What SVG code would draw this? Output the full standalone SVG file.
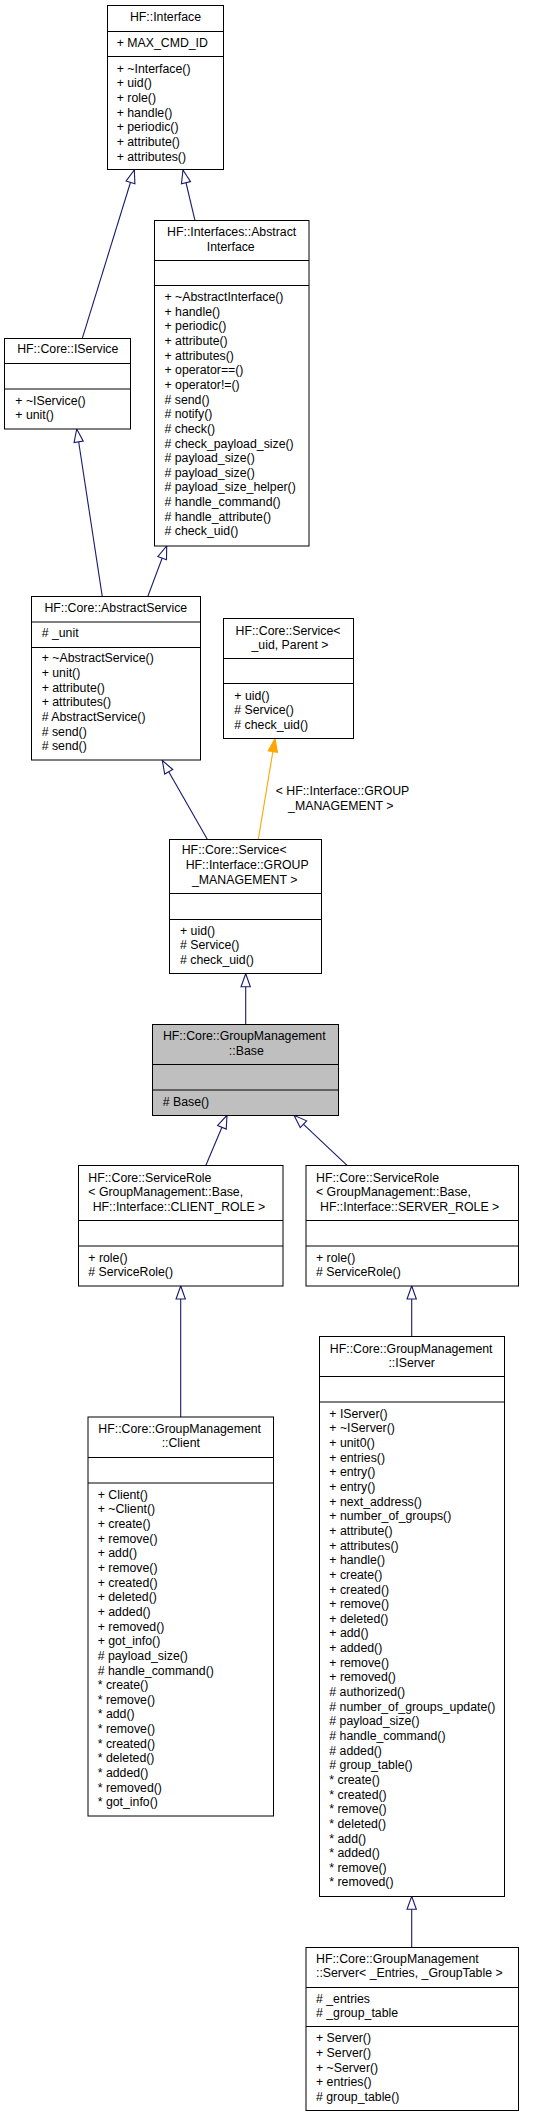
<svg xmlns="http://www.w3.org/2000/svg" width="549" height="2117" viewBox="0 0 549 2117">
<style>
.bg{fill:#fff}
.n rect{fill:#fff;stroke:#000;stroke-width:1}
.n line{stroke:#000;stroke-width:1}
.n.hl rect{fill:#bfbfbf}
text{font-family:"Liberation Sans",Arial,Helvetica,sans-serif;font-size:12.3px;fill:#000}
.c{text-anchor:middle}
.e{fill:none;stroke:#191970;stroke-width:1.1}
.eo{fill:none;stroke:#ffa500;stroke-width:1.1}
</style>
<defs>
<marker id="inh" markerUnits="userSpaceOnUse" markerWidth="15" markerHeight="11" viewBox="0 0 15 11" refX="13.5" refY="5.15" orient="auto" overflow="visible">
<path d="M0.5,0.5 L13.5,5.15 L0.5,9.8 Z" fill="#fff" stroke="#191970" stroke-width="1.1"/>
</marker>
<marker id="tpl" markerUnits="userSpaceOnUse" markerWidth="15" markerHeight="11" viewBox="0 0 15 11" refX="13.5" refY="5.15" orient="auto" overflow="visible">
<path d="M0.5,0.5 L13.5,5.15 L0.5,9.8 Z" fill="#ffa500" stroke="#ffa500" stroke-width="1.1"/>
</marker>
</defs>
<rect class="bg" x="0" y="0" width="549" height="2117"/>

<g id="edges">
<path class="e" d="M82.3,338.3 L134.3,170" marker-end="url(#inh)"/>
<path class="e" d="M195,220.7 L183,170" marker-end="url(#inh)"/>
<path class="e" d="M102.3,596.7 L76.7,429" marker-end="url(#inh)"/>
<path class="e" d="M147.7,596.7 L166.7,546" marker-end="url(#inh)"/>
<path class="e" d="M207.3,839.3 L162.3,760.5" marker-end="url(#inh)"/>
<path class="eo" d="M258.3,839.3 L275,738.7" marker-end="url(#tpl)"/>
<text class="c" x="342.5" y="795.3">&lt; HF::Interface::GROUP</text>
<text class="c" x="340.8" y="810.3">_MANAGEMENT &gt;</text>
<path class="e" d="M245.7,1024.7 L245.7,973.7" marker-end="url(#inh)"/>
<path class="e" d="M205.7,1165.7 L227,1115.3" marker-end="url(#inh)"/>
<path class="e" d="M347.3,1165.7 L294,1115.3" marker-end="url(#inh)"/>
<path class="e" d="M180.7,1417 L180.7,1286" marker-end="url(#inh)"/>
<path class="e" d="M411.7,1336.7 L411.7,1286" marker-end="url(#inh)"/>
<path class="e" d="M411.7,1947.3 L411.7,1896.3" marker-end="url(#inh)"/>
</g>

<g id="interface" class="n">
<rect x="107.5" y="5.5" width="116" height="164"/>
<line x1="107.5" y1="31.5" x2="223.5" y2="31.5"/>
<line x1="107.5" y1="56.5" x2="223.5" y2="56.5"/>
<text class="c" x="165.5" y="20.7">HF::Interface</text>
<text x="116.7" y="46.7">+ MAX_CMD_ID</text>
<text x="116.7" y="72.7"><tspan x="116.7">+ ~Interface()</tspan><tspan x="116.7" dy="14.65">+ uid()</tspan><tspan x="116.7" dy="14.65">+ role()</tspan><tspan x="116.7" dy="14.65">+ handle()</tspan><tspan x="116.7" dy="14.65">+ periodic()</tspan><tspan x="116.7" dy="14.65">+ attribute()</tspan><tspan x="116.7" dy="14.65">+ attributes()</tspan></text>
</g>

<g id="abstract-interface" class="n">
<rect x="154.5" y="220.5" width="154.5" height="325.5"/>
<line x1="154.5" y1="260.5" x2="309" y2="260.5"/>
<line x1="154.5" y1="285.5" x2="309" y2="285.5"/>
<text class="c" x="231.7" y="236.3">HF::Interfaces::Abstract</text>
<text class="c" x="230.8" y="250.7">Interface</text>
<text x="164.5" y="301"><tspan x="164.5">+ ~AbstractInterface()</tspan><tspan x="164.5" dy="14.65">+ handle()</tspan><tspan x="164.5" dy="14.65">+ periodic()</tspan><tspan x="164.5" dy="14.65">+ attribute()</tspan><tspan x="164.5" dy="14.65">+ attributes()</tspan><tspan x="164.5" dy="14.65">+ operator==()</tspan><tspan x="164.5" dy="14.65">+ operator!=()</tspan><tspan x="164.5" dy="14.65"># send()</tspan><tspan x="164.5" dy="14.65"># notify()</tspan><tspan x="164.5" dy="14.65"># check()</tspan><tspan x="164.5" dy="14.65"># check_payload_size()</tspan><tspan x="164.5" dy="14.65"># payload_size()</tspan><tspan x="164.5" dy="14.65"># payload_size()</tspan><tspan x="164.5" dy="14.65"># payload_size_helper()</tspan><tspan x="164.5" dy="14.65"># handle_command()</tspan><tspan x="164.5" dy="14.65"># handle_attribute()</tspan><tspan x="164.5" dy="14.65"># check_uid()</tspan></text>
</g>

<g id="iservice" class="n">
<rect x="4.5" y="338.5" width="126" height="90.5"/>
<line x1="4.5" y1="363.5" x2="130.5" y2="363.5"/>
<line x1="4.5" y1="389" x2="130.5" y2="389"/>
<text class="c" x="67.8" y="353.3">HF::Core::IService</text>
<text x="15.3" y="404.7"><tspan x="15.3">+ ~IService()</tspan><tspan x="15.3" dy="14.65">+ unit()</tspan></text>
</g>

<g id="abstract-service" class="n">
<rect x="31.5" y="596.5" width="169" height="163.5"/>
<line x1="31.5" y1="622" x2="200.5" y2="622"/>
<line x1="31.5" y1="647.5" x2="200.5" y2="647.5"/>
<text class="c" x="115.8" y="612.3">HF::Core::AbstractService</text>
<text x="41.7" y="637.3"># _unit</text>
<text x="41.7" y="662.3"><tspan x="41.7">+ ~AbstractService()</tspan><tspan x="41.7" dy="14.65">+ unit()</tspan><tspan x="41.7" dy="14.65">+ attribute()</tspan><tspan x="41.7" dy="14.65">+ attributes()</tspan><tspan x="41.7" dy="14.65"># AbstractService()</tspan><tspan x="41.7" dy="14.65"># send()</tspan><tspan x="41.7" dy="14.65"># send()</tspan></text>
</g>

<g id="service-template" class="n">
<rect x="223.5" y="618.5" width="130" height="120"/>
<line x1="223.5" y1="658.5" x2="353.5" y2="658.5"/>
<line x1="223.5" y1="683.5" x2="353.5" y2="683.5"/>
<text class="c" x="288" y="634.7">HF::Core::Service&lt;</text>
<text class="c" x="290" y="649">_uid, Parent &gt;</text>
<text x="234.3" y="699.7"><tspan x="234.3">+ uid()</tspan><tspan x="234.3" dy="14.65"># Service()</tspan><tspan x="234.3" dy="14.65"># check_uid()</tspan></text>
</g>

<g id="service-group" class="n">
<rect x="169.5" y="839.5" width="152" height="134"/>
<line x1="169.5" y1="893.5" x2="321.5" y2="893.5"/>
<line x1="169.5" y1="919.5" x2="321.5" y2="919.5"/>
<text class="c" x="234.2" y="854.3">HF::Core::Service&lt;</text>
<text class="c" x="247.2" y="868.9">HF::Interface::GROUP</text>
<text class="c" x="244.7" y="883.5">_MANAGEMENT &gt;</text>
<text x="180" y="934.7"><tspan x="180">+ uid()</tspan><tspan x="180" dy="14.65"># Service()</tspan><tspan x="180" dy="14.65"># check_uid()</tspan></text>
</g>

<g id="base" class="n hl">
<rect x="152.5" y="1024.5" width="186" height="91"/>
<line x1="152.5" y1="1064.5" x2="338.5" y2="1064.5"/>
<line x1="152.5" y1="1090" x2="338.5" y2="1090"/>
<text class="c" x="244.3" y="1040.3">HF::Core::GroupManagement</text>
<text class="c" x="246.3" y="1054.7">::Base</text>
<text x="162.7" y="1105.7"># Base()</text>
</g>

<g id="service-role-client" class="n">
<rect x="78.5" y="1165.5" width="204.5" height="120.5"/>
<line x1="78.5" y1="1220.5" x2="283" y2="1220.5"/>
<line x1="78.5" y1="1246" x2="283" y2="1246"/>
<text x="88.3" y="1181.7">HF::Core::ServiceRole</text>
<text x="88.3" y="1196.3">&lt; GroupManagement::Base,</text>
<text x="92.7" y="1211">HF::Interface::CLIENT_ROLE &gt;</text>
<text x="88.3" y="1261.7"><tspan x="88.3">+ role()</tspan><tspan x="88.3" dy="14.65"># ServiceRole()</tspan></text>
</g>

<g id="service-role-server" class="n">
<rect x="306" y="1165.5" width="212.5" height="120.5"/>
<line x1="306" y1="1220.5" x2="518.5" y2="1220.5"/>
<line x1="306" y1="1246" x2="518.5" y2="1246"/>
<text x="316" y="1181.7">HF::Core::ServiceRole</text>
<text x="316" y="1196.3">&lt; GroupManagement::Base,</text>
<text x="320" y="1211">HF::Interface::SERVER_ROLE &gt;</text>
<text x="316" y="1261.7"><tspan x="316">+ role()</tspan><tspan x="316" dy="14.65"># ServiceRole()</tspan></text>
</g>

<g id="client" class="n">
<rect x="88" y="1417" width="185.5" height="399"/>
<line x1="88" y1="1457.5" x2="273.5" y2="1457.5"/>
<line x1="88" y1="1483" x2="273.5" y2="1483"/>
<text class="c" x="179.7" y="1432.7">HF::Core::GroupManagement</text>
<text class="c" x="180.8" y="1447.3">::Client</text>
<text x="97.7" y="1498.7"><tspan x="97.7">+ Client()</tspan><tspan x="97.7" dy="14.65">+ ~Client()</tspan><tspan x="97.7" dy="14.65">+ create()</tspan><tspan x="97.7" dy="14.65">+ remove()</tspan><tspan x="97.7" dy="14.65">+ add()</tspan><tspan x="97.7" dy="14.65">+ remove()</tspan><tspan x="97.7" dy="14.65">+ created()</tspan><tspan x="97.7" dy="14.65">+ deleted()</tspan><tspan x="97.7" dy="14.65">+ added()</tspan><tspan x="97.7" dy="14.65">+ removed()</tspan><tspan x="97.7" dy="14.65">+ got_info()</tspan><tspan x="97.7" dy="14.65"># payload_size()</tspan><tspan x="97.7" dy="14.65"># handle_command()</tspan><tspan x="97.7" dy="14.65">* create()</tspan><tspan x="97.7" dy="14.65">* remove()</tspan><tspan x="97.7" dy="14.65">* add()</tspan><tspan x="97.7" dy="14.65">* remove()</tspan><tspan x="97.7" dy="14.65">* created()</tspan><tspan x="97.7" dy="14.65">* deleted()</tspan><tspan x="97.7" dy="14.65">* added()</tspan><tspan x="97.7" dy="14.65">* removed()</tspan><tspan x="97.7" dy="14.65">* got_info()</tspan></text>
</g>

<g id="iserver" class="n">
<rect x="319.5" y="1336.5" width="185" height="560"/>
<line x1="319.5" y1="1376.5" x2="504.5" y2="1376.5"/>
<line x1="319.5" y1="1402" x2="504.5" y2="1402"/>
<text class="c" x="411.2" y="1353">HF::Core::GroupManagement</text>
<text class="c" x="411.7" y="1366.7">::IServer</text>
<text x="329.3" y="1417.7"><tspan x="329.3">+ IServer()</tspan><tspan x="329.3" dy="14.65">+ ~IServer()</tspan><tspan x="329.3" dy="14.65">+ unit0()</tspan><tspan x="329.3" dy="14.65">+ entries()</tspan><tspan x="329.3" dy="14.65">+ entry()</tspan><tspan x="329.3" dy="14.65">+ entry()</tspan><tspan x="329.3" dy="14.65">+ next_address()</tspan><tspan x="329.3" dy="14.65">+ number_of_groups()</tspan><tspan x="329.3" dy="14.65">+ attribute()</tspan><tspan x="329.3" dy="14.65">+ attributes()</tspan><tspan x="329.3" dy="14.65">+ handle()</tspan><tspan x="329.3" dy="14.65">+ create()</tspan><tspan x="329.3" dy="14.65">+ created()</tspan><tspan x="329.3" dy="14.65">+ remove()</tspan><tspan x="329.3" dy="14.65">+ deleted()</tspan><tspan x="329.3" dy="14.65">+ add()</tspan><tspan x="329.3" dy="14.65">+ added()</tspan><tspan x="329.3" dy="14.65">+ remove()</tspan><tspan x="329.3" dy="14.65">+ removed()</tspan><tspan x="329.3" dy="14.65"># authorized()</tspan><tspan x="329.3" dy="14.65"># number_of_groups_update()</tspan><tspan x="329.3" dy="14.65"># payload_size()</tspan><tspan x="329.3" dy="14.65"># handle_command()</tspan><tspan x="329.3" dy="14.65"># added()</tspan><tspan x="329.3" dy="14.65"># group_table()</tspan><tspan x="329.3" dy="14.65">* create()</tspan><tspan x="329.3" dy="14.65">* created()</tspan><tspan x="329.3" dy="14.65">* remove()</tspan><tspan x="329.3" dy="14.65">* deleted()</tspan><tspan x="329.3" dy="14.65">* add()</tspan><tspan x="329.3" dy="14.65">* added()</tspan><tspan x="329.3" dy="14.65">* remove()</tspan><tspan x="329.3" dy="14.65">* removed()</tspan></text>
</g>

<g id="server" class="n">
<rect x="306" y="1947.5" width="212.5" height="163"/>
<line x1="306" y1="1987.5" x2="518.5" y2="1987.5"/>
<line x1="306" y1="2026.5" x2="518.5" y2="2026.5"/>
<text x="316" y="1962.7">HF::Core::GroupManagement</text>
<text x="316" y="1977.3">::Server&lt; _Entries, _GroupTable &gt;</text>
<text x="316" y="2002.7"><tspan x="316"># _entries</tspan><tspan x="316" dy="14.65"># _group_table</tspan></text>
<text x="316" y="2042.3"><tspan x="316">+ Server()</tspan><tspan x="316" dy="14.65">+ Server()</tspan><tspan x="316" dy="14.65">+ ~Server()</tspan><tspan x="316" dy="14.65">+ entries()</tspan><tspan x="316" dy="14.65"># group_table()</tspan></text>
</g>
</svg>
